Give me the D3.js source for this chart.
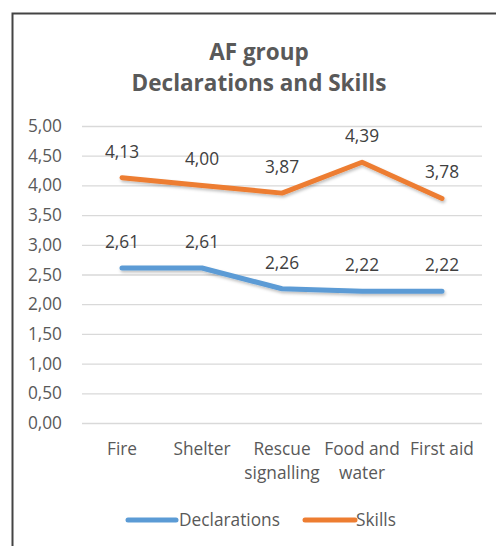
<!DOCTYPE html>
<html><head><meta charset="utf-8">
<script src="https://cdn.jsdelivr.net/npm/d3@7"></script>
<style>body{margin:0;background:#fff}svg{display:block}</style>
</head><body>
<script>
const categories = [["Fire"],["Shelter"],["Rescue","signalling"],["Food and","water"],["First aid"]];
const categoryKeys = ["Fire","Shelter","Rescue signalling","Food and water","First aid"];
const declarations = [2.61, 2.61, 2.26, 2.22, 2.22];
const skills = [4.13, 4.00, 3.87, 4.39, 3.78];
const yTicks = [0,0.5,1,1.5,2,2.5,3,3.5,4,4.5,5];
const titleLines = ["AF group","Declarations and Skills"];
const seriesNames = ["Declarations","Skills"];

const W=496,H=546;
const font="'Open Sans', sans-serif";
const fs=17.3;
const svg=d3.select("body").append("svg").attr("width",W).attr("height",H);
svg.append("rect").attr("width",W).attr("height",H).attr("fill","#fff");
svg.append("path").attr("d","M12.5,"+H+"V13.5H"+W).attr("fill","none").attr("stroke","#444").attr("stroke-width",2);

const x=d3.scaleBand().domain(categoryKeys).range([82,482]);
const y=d3.scaleLinear().domain([0,5]).range([423,126]);
const fmt=v=>d3.format(".2f")(v).replace(".",",");

svg.append("g").selectAll("text").data(titleLines).join("text")
 .attr("x",259).attr("y",(d,i)=>60+i*31).attr("text-anchor","middle")
 .attr("font-family",font).attr("font-weight","bold").attr("font-size",22.5).attr("fill","#595959").text(d=>d);

const ga=svg.append("g").attr("transform","translate(82,0)")
 .call(d3.axisLeft(y).tickValues(yTicks).tickSize(-400).tickFormat(fmt).tickPadding(20));
ga.select(".domain").remove();
ga.selectAll(".tick line").attr("stroke","#d9d9d9").attr("stroke-width",1.3);
ga.selectAll(".tick text").attr("font-family",font).attr("font-size",fs).attr("fill","#595959");

const series=[{name:seriesNames[0],vals:declarations,color:"#5B9BD5"},{name:seriesNames[1],vals:skills,color:"#ED7D31"}];
const line=d3.line().x((d,i)=>x(categoryKeys[i])+x.bandwidth()/2).y(d=>y(d));
const defs=svg.append("defs");
const f=defs.append("filter").attr("id","sh").attr("x","-10%").attr("y","-50%").attr("width","120%").attr("height","200%");
f.append("feDropShadow").attr("dx",1).attr("dy",2).attr("stdDeviation",1.5).attr("flood-color","#000").attr("flood-opacity",0.25);
series.forEach(s=>{
 svg.append("path").datum(s.vals).attr("d",line).attr("fill","none").attr("stroke",s.color)
  .attr("stroke-width",5).attr("stroke-linecap","round").attr("stroke-linejoin","round").attr("filter","url(#sh)");
 svg.append("g").selectAll("text").data(s.vals).join("text")
  .attr("x",(d,i)=>x(categoryKeys[i])+x.bandwidth()/2).attr("y",d=>y(d)-20)
  .attr("text-anchor","middle").attr("font-family",font).attr("font-size",fs).attr("fill","#404040").text(fmt);
});

const gx=svg.append("g").selectAll("text").data(categories).join("text")
 .attr("x",(d,i)=>x(categoryKeys[i])+x.bandwidth()/2).attr("y",455)
 .attr("text-anchor","middle").attr("font-family",font).attr("font-size",fs).attr("fill","#595959");
gx.selectAll("tspan").data(d=>d).join("tspan").attr("x",function(){return this.parentNode.getAttribute("x");})
 .attr("dy",(d,i)=>i?24:0).text(d=>d);

const leg=[{x0:128,x1:176,tx:179},{x0:305,x1:355,tx:356}];
series.forEach((s,i)=>{
 svg.append("line").attr("x1",leg[i].x0).attr("x2",leg[i].x1).attr("y1",520).attr("y2",520)
  .attr("stroke",s.color).attr("stroke-width",5).attr("stroke-linecap","round");
 svg.append("text").attr("x",leg[i].tx).attr("y",526).attr("font-family",font).attr("font-size",fs).attr("fill","#595959").text(s.name);
});
</script>
</body></html>
